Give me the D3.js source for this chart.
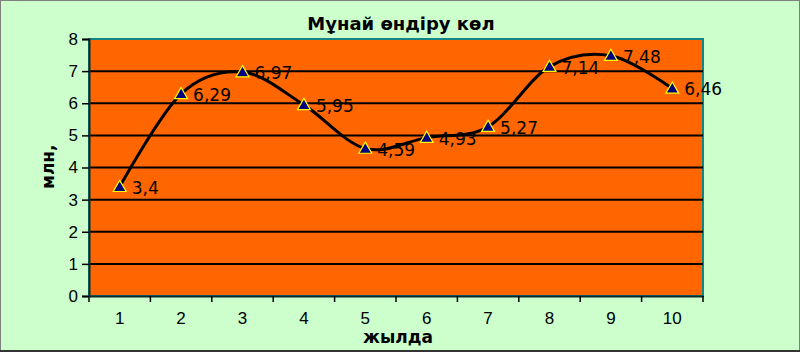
<!DOCTYPE html>
<html>
<head>
<meta charset="utf-8">
<script src="https://cdn.jsdelivr.net/npm/d3@7"></script>
<style>
  body { margin: 0; background: #ccffcc; }
  svg { display: block; font-family: 'DejaVu Sans', sans-serif; }
</style>
</head>
<body>
<div id="plot"></div>
<script>
'use strict';

const years = [1, 2, 3, 4, 5, 6, 7, 8, 9, 10]
const output = [3.4, 6.29, 6.97, 5.95, 4.59, 4.93, 5.27, 7.14, 7.48, 6.46]
const labels = ['3,4', '6,29', '6,97', '5,95', '4,59', '4,93', '5,27', '7,14', '7,48', '6,46']
const yTicks = [0, 1, 2, 3, 4, 5, 6, 7, 8]

const title = 'Мұнай өндіру көл'
const xTitle = 'жылда'
const yTitle = 'млн, т'

let width = 800;
let height = 352;
let m = {left: 89, right: 97, top: 39, bottom: 56};

let svg = d3.select('#plot').append('svg')
  .attr('width', width)
  .attr('height', height)

svg.append('rect')
  .attr('x', 0.5).attr('y', 0.5)
  .attr('width', width - 1).attr('height', height - 1.5)
  .attr('fill', '#ccffcc')
  .attr('stroke', '#7f7f7f')
svg.append('line')
  .attr('x1', 0).attr('x2', width)
  .attr('y1', height - 1).attr('y2', height - 1)
  .attr('stroke', '#333').attr('stroke-width', 2)

let x = d3.scaleBand()
  .domain(years)
  .range([m.left, width - m.right]);
let y = d3.scaleLinear()
  .domain([0, 8])
  .range([height - m.bottom, m.top]);

// plot area
svg.append('rect')
  .attr('x', m.left).attr('y', m.top)
  .attr('width', width - m.left - m.right)
  .attr('height', height - m.top - m.bottom)
  .attr('fill', '#ff6600')
  .attr('stroke', '#138585')
  .attr('stroke-width', 2)

svg.append('g')
  .selectAll('line')
  .data(yTicks.filter(d => d > 0 && d < 8))
  .enter()
  .append('line')
  .attr('x1', m.left).attr('x2', width - m.right)
  .attr('y1', d => y(d)).attr('y2', d => y(d))
  .attr('stroke', '#000')
  .attr('stroke-width', 2)

let x_axis = d3.axisBottom(x)
  .tickSize(0)
  .tickPadding(16)
let xg = svg.append('g')
  .attr('transform', `translate(0, ${height - m.bottom})`)
  .call(x_axis);
xg.select('.domain').attr('stroke', '#0b2a2a').attr('stroke-width', 2)
xg.selectAll('text').attr('font-size', '17px').attr('fill', '#000')
xg.append('g')
  .selectAll('line')
  .data(years.concat([null]))
  .enter()
  .append('line')
  .attr('x1', (d, i) => i < years.length ? x(d) : x(years[i - 1]) + x.bandwidth())
  .attr('x2', (d, i) => i < years.length ? x(d) : x(years[i - 1]) + x.bandwidth())
  .attr('y1', 0).attr('y2', 6)
  .attr('stroke', '#000')
  .attr('stroke-width', 1.5)

let y_axis = d3.axisLeft(y)
  .tickValues(yTicks)
  .tickSize(7)
  .tickPadding(4)
let yg = svg.append('g')
  .attr('transform', `translate(${m.left}, 0)`)
  .call(y_axis);
yg.select('.domain').attr('stroke', '#0b2a2a').attr('stroke-width', 2)
yg.selectAll('.tick line').attr('stroke', '#000').attr('stroke-width', 1.5)
yg.selectAll('text').attr('font-size', '17px').attr('fill', '#000')

// smoothed line
let cx = d => x(d) + x.bandwidth() / 2;
let line = d3.line()
  .x((d, i) => cx(years[i]))
  .y(d => y(d))
  .curve(d3.curveCardinal.tension(0));
svg.append('path')
  .attr('d', line(output))
  .attr('fill', 'none')
  .attr('stroke', '#000')
  .attr('stroke-width', 3)

svg.append('g')
  .selectAll('path')
  .data(output)
  .enter()
  .append('path')
  .attr('d', d3.symbol().type(d3.symbolTriangle).size(72))
  .attr('transform', (d, i) => `translate(${cx(years[i])}, ${y(d) + 1})`)
  .attr('fill', '#000080')
  .attr('stroke', '#ffff00')
  .attr('stroke-width', 1.2)

svg.append('g')
  .selectAll('text')
  .data(output)
  .enter()
  .append('text')
  .attr('x', (d, i) => cx(years[i]) + 12)
  .attr('y', d => y(d) + 7)
  .attr('font-size', '17px')
  .attr('fill', '#000')
  .text((d, i) => labels[i])

svg.append('text')
  .attr('x', 401)
  .attr('y', 30)
  .attr('text-anchor', 'middle')
  .attr('font-size', '18px')
  .attr('font-weight', 'bold')
  .text(title)

svg.append('text')
  .attr('x', 398)
  .attr('y', 343)
  .attr('text-anchor', 'middle')
  .attr('font-size', '17px')
  .attr('font-weight', 'bold')
  .text(xTitle)

svg.append('clipPath')
  .attr('id', 'yclip')
  .append('rect')
  .attr('x', 0).attr('y', 139).attr('width', 80).attr('height', 120)
svg.append('g')
  .attr('clip-path', 'url(#yclip)')
  .append('text')
  .attr('transform', 'translate(54, 189) rotate(-90)')
  .attr('font-size', '17px')
  .attr('font-weight', 'bold')
  .text(yTitle)
</script>
</body>
</html>
